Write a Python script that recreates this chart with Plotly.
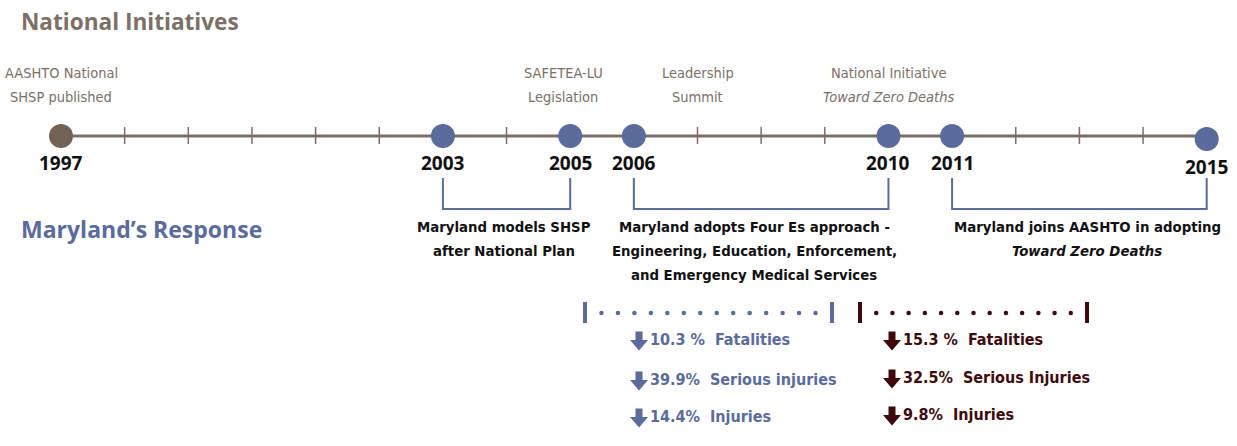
import plotly.graph_objects as go
import numpy as np

# ---------------- data ----------------
timeline_years = list(range(1997, 2016))
event_years = [1997, 2003, 2005, 2006, 2010, 2011, 2015]
event_colors = ["#736357", "#5A6B9C", "#5A6B9C", "#5A6B9C", "#5A6B9C", "#5A6B9C", "#5A6B9C"]

national_years = [1997, 2005, 2007, 2010]
national_line1 = ["AASHTO National", "SAFETEA-LU", "Leadership", "National Initiative"]
national_line2 = ["SHSP published", "Legislation", "Summit", "<i>Toward Zero Deaths</i>"]

response_start = [2003, 2006, 2011]
response_end = [2005, 2010, 2015]
response_text = [
    ["Maryland models SHSP", "after National Plan"],
    ["Maryland adopts Four Es approach -", "Engineering, Education, Enforcement,", "and Emergency Medical Services"],
    ["Maryland joins AASHTO in adopting", "<i>Toward Zero Deaths</i>"],
]

stat_labels_1 = ["Fatalities", "Serious injuries", "Injuries"]
stat_values_1 = ["10.3 %", "39.9%", "14.4%"]
stat_labels_2 = ["Fatalities", "Serious Injuries", "Injuries"]
stat_values_2 = ["15.3 %", "32.5%", "9.8%"]

# ---------------- layout constants ----------------
W, H = 1237, 446
PX0, PX_PER_YEAR = 61.0, 63.65   # pixel of 1997, pixels per year


def yr(px):
    return 1997 + (px - PX0) / PX_PER_YEAR


LINE_Y = 136
BLUE = "#5A6B9C"
DRED = "#3E0A0C"
GRAY = "#7A6E66"
COND = "Liberation Sans Narrow, DejaVu Sans Condensed, Arial Narrow, sans-serif"
BOLDF = "Open Sans, Noto Sans, sans-serif"

fig = go.Figure()
shapes = []
ann = []

# main timeline
fig.add_trace(go.Scatter(x=[timeline_years[0], timeline_years[-1]], y=[LINE_Y, LINE_Y], mode="lines",
                         line=dict(color=GRAY, width=3), hoverinfo="skip"))
# ticks on non-event years
for y_ in timeline_years:
    if y_ not in event_years:
        shapes.append(dict(type="line", x0=y_, x1=y_, y0=LINE_Y - 9, y1=LINE_Y + 8,
                           xref="x", yref="y", line=dict(color=GRAY, width=1.5)))
# event dots
dot_y = [LINE_Y + (3 if e == 2015 else 0) for e in event_years]
fig.add_trace(go.Scatter(x=event_years, y=dot_y, mode="markers",
                         marker=dict(size=24, color=event_colors, line=dict(width=0)), hoverinfo="skip"))
# year labels
for e in event_years:
    ann.append(dict(x=e, y=163 + (4 if e == 2015 else 0), text="<b>%d</b>" % e, showarrow=False,
                    xref="x", yref="y", font=dict(family=BOLDF, size=19, color="#111111"),
                    xanchor="center", yanchor="middle"))

# national initiative labels
nat_shift = {1997: 0, 2005: -7, 2007: 0, 2010: 0}
for x_, l1, l2 in zip(national_years, national_line1, national_line2):
    for ty, t in ((73, l1), (97, l2)):
        ann.append(dict(x=x_, y=ty, text=t, showarrow=False, xref="x", yref="y", xshift=nat_shift[x_],
                        font=dict(family=COND, size=14.5, color="#7B6F67"),
                        xanchor="center", yanchor="middle"))

# titles
ann.append(dict(x=0, y=21, xref="paper", yref="y", xshift=19, text="<b>National Initiatives</b>", showarrow=False,
                font=dict(family=BOLDF, size=22.6, color="#7B6F67"), xanchor="left", yanchor="middle"))
ann.append(dict(x=0, y=229, xref="paper", yref="y", xshift=19, text="<b>Maryland’s Response</b>", showarrow=False,
                font=dict(family=BOLDF, size=23, color=BLUE), xanchor="left", yanchor="middle"))

# response brackets and text
text_shift = [-3, -7, 8]
for s, e, lines, sh in zip(response_start, response_end, response_text, text_shift):
    shapes.append(dict(type="path", path="M %f,%f L %f,%f L %f,%f L %f,%f" % (s, 178, s, 209, e, 209, e, 178),
                       xref="x", yref="y", line=dict(color=BLUE, width=2)))
    for i, t in enumerate(lines):
        ann.append(dict(x=(s + e) / 2, y=226 + 24 * i, text="<b>%s</b>" % t, showarrow=False, xref="x", yref="y",
                        xshift=sh, font=dict(family=COND, size=14.8, color="#111111"),
                        xanchor="center", yanchor="middle"))


# dotted period lines
def dotted(px_a, px_b, n, color):
    xa, xb = yr(px_a), yr(px_b)
    for xx in (xa, xb):
        shapes.append(dict(type="line", x0=xx, x1=xx, y0=302, y1=323, xref="x", yref="y",
                           line=dict(color=color, width=4)))
    dots = np.linspace(xa, xb, n + 2)[1:-1]
    fig.add_trace(go.Scatter(x=dots, y=[313] * len(dots), mode="markers",
                             marker=dict(size=4.5, color=color), hoverinfo="skip"))


dotted(585, 832, 14, BLUE)
dotted(860, 1087, 13, DRED)


def arrow_path(cx, cy):
    # bold down arrow, about 18 px wide and 19 px tall, centred at (cx, cy) in pixels
    pts = [(-3.5, -9.5), (3.5, -9.5), (3.5, -1), (9, -1), (0, 9.5), (-9, -1), (-3.5, -1)]
    return "M " + " L ".join("%f,%f" % (yr(cx + dx), cy + dy) for dx, dy in pts) + " Z"


# stats
def stats(px_arrow, values, labels, ys, color):
    for v, l, ty in zip(values, labels, ys):
        shapes.append(dict(type="path", path=arrow_path(px_arrow, ty + 2), xref="x", yref="y",
                           fillcolor=color, line=dict(width=0)))
        ann.append(dict(x=yr(px_arrow + 9), y=ty, text="<b>%s  %s</b>" % (v, l), showarrow=False,
                        xref="x", yref="y", font=dict(family=COND, size=16, color=color),
                        xanchor="left", yanchor="middle"))


stats(639, stat_values_1, stat_labels_1, [339, 379, 416], BLUE)
stats(892, stat_values_2, stat_labels_2, [339, 377, 414], DRED)

fig.update_layout(
    width=W, height=H, margin=dict(l=0, r=0, t=0, b=0),
    paper_bgcolor="white", plot_bgcolor="white", showlegend=False,
    xaxis=dict(range=[yr(0), yr(W)], visible=False, fixedrange=True),
    yaxis=dict(range=[H, 0], visible=False, fixedrange=True),
    shapes=shapes, annotations=ann,
)
fig.write_html("out.html", config={"displayModeBar": False},
               post_script="document.body.style.margin='0';document.body.style.overflow='hidden';")
